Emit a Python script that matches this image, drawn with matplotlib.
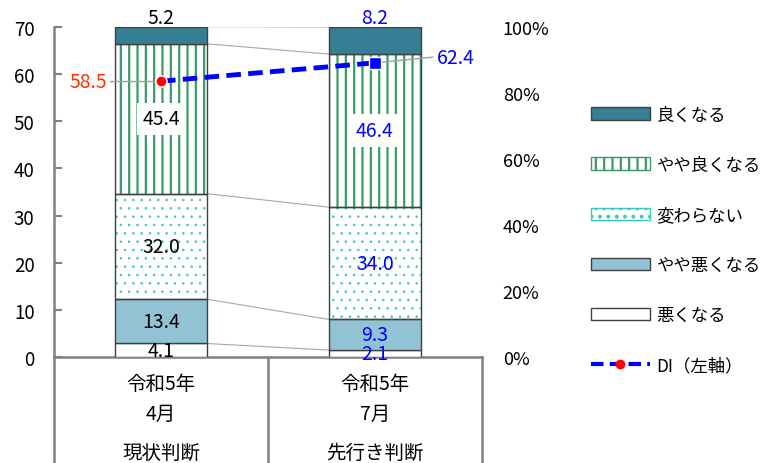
import numpy as np
import matplotlib
matplotlib.use('Agg')
import matplotlib.pyplot as plt
from matplotlib.patches import Patch
from matplotlib.lines import Line2D

plt.rcParams['font.family'] = ['Noto Sans CJK JP', 'DejaVu Sans']
plt.rcParams['hatch.linewidth'] = 1.6

# data
periods = ['令和5年\n4月', '令和5年\n7月']
judgements = ['現状判断', '先行き判断']
series_names = ['悪くなる', 'やや悪くなる', '変わらない', 'やや良くなる', '良くなる']
worse = [4.1, 2.1]
slightly_worse = [13.4, 9.3]
unchanged = [32.0, 34.0]
slightly_better = [45.4, 46.4]
better = [5.2, 8.2]
di = [58.5, 62.4]

stack = [worse, slightly_worse, unchanged, slightly_better, better]
face = ['white', '#92C3D4', 'white', 'white', '#367E93']
hatch_color = [None, None, '#3CC8BE', '#3A9A68', None]
hatches = [None, None, '..', '||', None]
hatch_lw = [None, None, 0.6, 1.6, None]
label_colors = ['black', '#0000FF']
grid_gray = '#808080'

fig = plt.figure(figsize=(7.66, 4.64), dpi=100)
ax = fig.add_axes([0.0705, 0.2284, 0.5587, 0.7113])

x = np.arange(len(periods))
w = 0.43
bottom = np.zeros(len(periods))
for i, vals in enumerate(stack):
    vals = np.array(vals)
    if hatches[i]:
        with plt.rc_context({'hatch.linewidth': hatch_lw[i]}):
            ax.bar(x, vals, w, bottom=bottom, color='white', edgecolor=hatch_color[i],
                   hatch=hatches[i], linewidth=0, zorder=2)
        ax.bar(x, vals, w, bottom=bottom, fill=False, edgecolor='#404040',
               linewidth=1, zorder=3)
    else:
        ax.bar(x, vals, w, bottom=bottom, color=face[i], edgecolor='#404040',
               linewidth=1, zorder=3)
    bottom = bottom + vals

# connecting lines between bars
cum = np.cumsum(np.array(stack), axis=0)
for row in cum:
    ax.plot([x[0] + w / 2, x[1] - w / 2], [row[0], row[1]], color='#A8A8A8',
            linewidth=0.8, zorder=1)

# value labels
for j in range(len(periods)):
    base = 0
    for i, vals in enumerate(stack):
        v = vals[j]
        yc = base + v / 2
        if i == 4:
            yc = base + v + 2.8
        kw = {}
        if i == 3:
            kw['bbox'] = dict(facecolor='white', edgecolor='none', pad=4)
        ax.text(x[j], yc, f'{v:.1f}', ha='center', va='center', fontsize=14,
                color=label_colors[j], zorder=5, clip_on=False, **kw)
        base += v

ax.set_xlim(-0.5, 1.5)
ax.set_ylim(0, 100)
ax.set_xticks([])
for s in ['top', 'right', 'left']:
    ax.spines[s].set_visible(False)
ax.spines['bottom'].set_color(grid_gray)
ax.spines['bottom'].set_linewidth(1.8)

# DI on left axis
ax_di = ax.twinx()
ax_di.set_ylim(0, 70)
ax_di.yaxis.tick_left()
ax_di.set_yticks(np.arange(0, 71, 10))
ax_di.tick_params(axis='y', direction='in', length=6, color=grid_gray,
                  width=1.5, pad=14, labelsize=13.5)
for s in ['top', 'right', 'bottom']:
    ax_di.spines[s].set_visible(False)
ax_di.spines['left'].set_color(grid_gray)
ax_di.spines['left'].set_linewidth(1.8)

# percent axis on the right (set after twinx)
ax.yaxis.tick_right()
ax.set_yticks(np.arange(0, 101, 20))
ax.set_yticklabels([f'{t}%' for t in range(0, 101, 20)])
ax.tick_params(axis='y', length=0, pad=15, labelsize=13)

ax_di.plot(x, di, color='#0000FF', linestyle=(0, (3, 1.5)), linewidth=3.5, zorder=4)
ax_di.plot(x[0], di[0], 'o', color='#FF0000', markersize=8, markeredgecolor='white',
           markeredgewidth=1, zorder=5)
ax_di.plot(x[1], di[1], 's', color='#0000FF', markersize=8, markeredgecolor='white',
           markeredgewidth=1, zorder=5)
ax_di.plot([x[0] - 0.24, x[0]], [di[0], di[0]], color='#A0A0A0', linewidth=1, zorder=3)
ax_di.plot([x[1], x[1] + 0.27], [di[1], di[1] + 1.2], color='#A0A0A0', linewidth=1, zorder=3)
ax_di.text(x[0] - 0.25, di[0], f'{di[0]:.1f}', ha='right', va='center', fontsize=14,
           color='#FF3300')
ax_di.text(x[1] + 0.29, di[1] + 1.2, f'{di[1]:.1f}', ha='left', va='center', fontsize=14,
           color='#0000FF')

# table below the plot
for xv in [0, 0.5, 1]:
    ax.plot([xv, xv], [0, -0.4], transform=ax.transAxes, color=grid_gray,
            linewidth=1.8, clip_on=False)
for j in range(len(periods)):
    xc = 0.25 + 0.5 * j
    top, bot = periods[j].split('\n')
    ax.text(xc, -0.079, top, transform=ax.transAxes, ha='center', va='center', fontsize=14)
    ax.text(xc, -0.170, bot, transform=ax.transAxes, ha='center', va='center', fontsize=14)
    ax.text(xc, -0.290, judgements[j], transform=ax.transAxes, ha='center', va='center',
            fontsize=14)

# legend
handles = []
for i in reversed(range(len(stack))):
    if hatches[i]:
        with plt.rc_context({'hatch.linewidth': hatch_lw[i]}):
            handles.append(Patch(facecolor='white', edgecolor=hatch_color[i],
                                 hatch=hatches[i], linewidth=1))
    else:
        handles.append(Patch(facecolor=face[i], edgecolor='#404040', linewidth=1))
handles.append(Line2D([0], [0], color='#0000FF', linestyle=(0, (3, 1.5)), linewidth=3,
                      marker='o', markerfacecolor='#FF0000', markeredgecolor='#FF0000',
                      markersize=6))
labels = list(reversed(series_names)) + ['DI（左軸）']
fig.legend(handles, labels, loc='upper left', bbox_to_anchor=(0.762, 0.785),
           frameon=False, fontsize=12.5, handlelength=3.4, handleheight=0.75,
           labelspacing=1.85, handletextpad=0.4, borderaxespad=0)

fig.savefig('out.png', dpi=100)
